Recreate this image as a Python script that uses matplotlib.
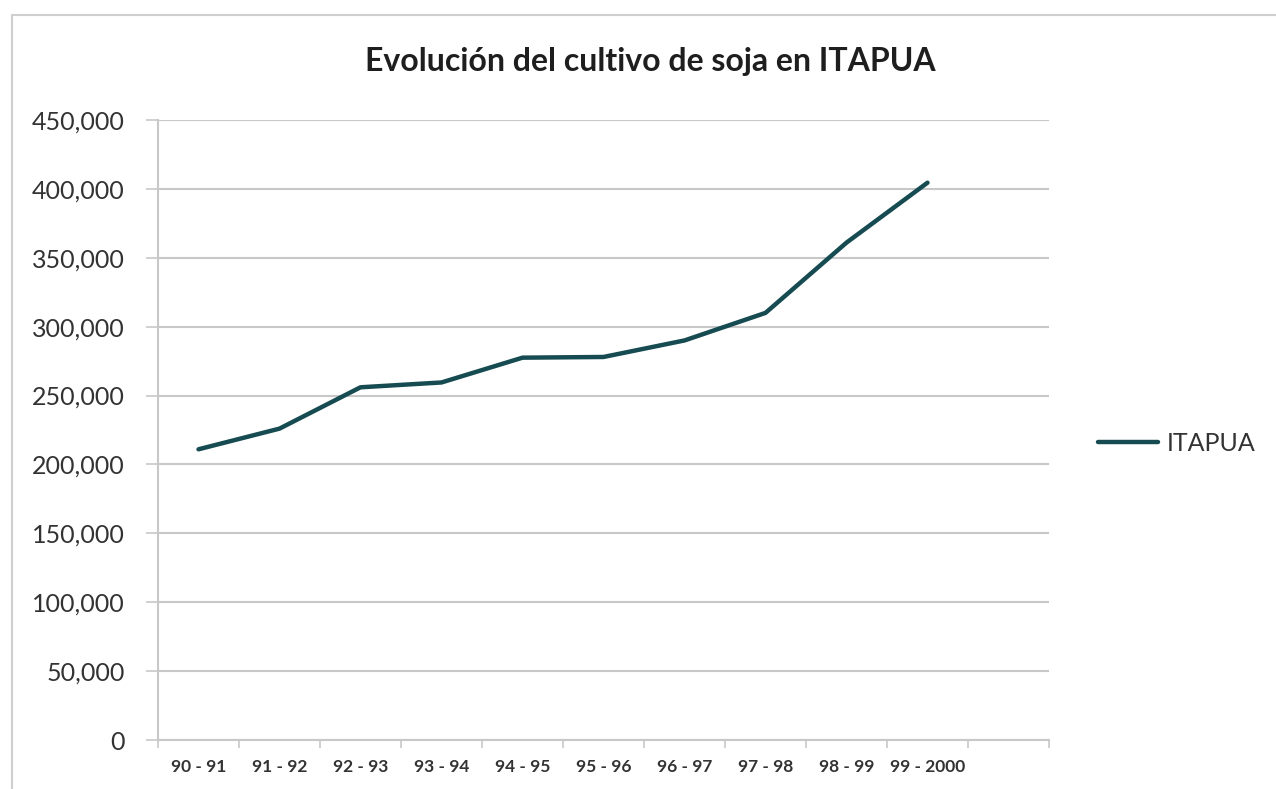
import matplotlib.pyplot as plt
from matplotlib.patches import Rectangle
from matplotlib.ticker import FuncFormatter, FixedLocator

plt.rcParams['font.family'] = ['Lato', 'DejaVu Sans']

# soja production, Itapua
campaigns = ['90 - 91', '91 - 92', '92 - 93', '93 - 94', '94 - 95',
             '95 - 96', '96 - 97', '97 - 98', '98 - 99', '99 - 2000']
itapua = [211000, 226000, 256000, 259500, 277500,
          278000, 290000, 310000, 361000, 404500]

n_slots = 11  # excel axis leaves one empty category at the end
text_col = '#333333'
grid_col = '#c8c8c8'

fig = plt.figure(figsize=(12.76, 7.89), dpi=100)
fig.patches.append(Rectangle((12 / 1276, -0.1), 1.2, (789 - 15) / 789 + 0.1,
                             transform=fig.transFigure, fill=False,
                             edgecolor='#cfcfcf', linewidth=1.5))

ax = fig.add_axes([158 / 1276, 49 / 789, 891 / 1276, 620 / 789])
x = range(len(campaigns))
ax.plot(x, itapua, color='#164b52', linewidth=3.2, solid_capstyle='round',
        label='ITAPUA')

ax.set_ylim(0, 450000)
ax.set_xlim(-0.5, n_slots - 0.5)
ax.set_yticks(range(0, 450001, 50000))
ax.yaxis.set_major_formatter(FuncFormatter(lambda v, _: f'{int(v):,}'))
ax.grid(axis='y', color=grid_col, linewidth=1.5)
ax.set_axisbelow(True)

ax.xaxis.set_major_locator(FixedLocator([i - 0.5 for i in range(n_slots + 1)]))
ax.xaxis.set_minor_locator(FixedLocator(list(x)))
ax.set_xticklabels([])
ax.set_xticklabels(campaigns, minor=True)
ax.tick_params(axis='x', which='major', length=6, color=grid_col, width=1.2)
ax.tick_params(axis='x', which='minor', length=0, pad=14, labelsize=12.5,
               labelcolor=text_col)
for lbl in ax.get_xticklabels(minor=True):
    lbl.set_fontweight('bold')
ax.tick_params(axis='y', length=9, color=grid_col, width=1.2, pad=15,
               labelsize=18, labelcolor=text_col)

for side in ['top', 'right']:
    ax.spines[side].set_visible(False)
for side in ['left', 'bottom']:
    ax.spines[side].set_color(grid_col)
    ax.spines[side].set_linewidth(1.5)

fig.text(650 / 1276, 1 - 62 / 789, 'Evolución del cultivo de soja en ITAPUA',
         ha='center', va='center', fontsize=23, fontweight='bold', color='#1e1e1e')

ax.legend(loc='center left', bbox_to_anchor=(1.03, 0.478), frameon=False,
          fontsize=18, handlelength=2.4, handletextpad=0.35,
          labelcolor=text_col)

fig.savefig('out.png', dpi=100)
